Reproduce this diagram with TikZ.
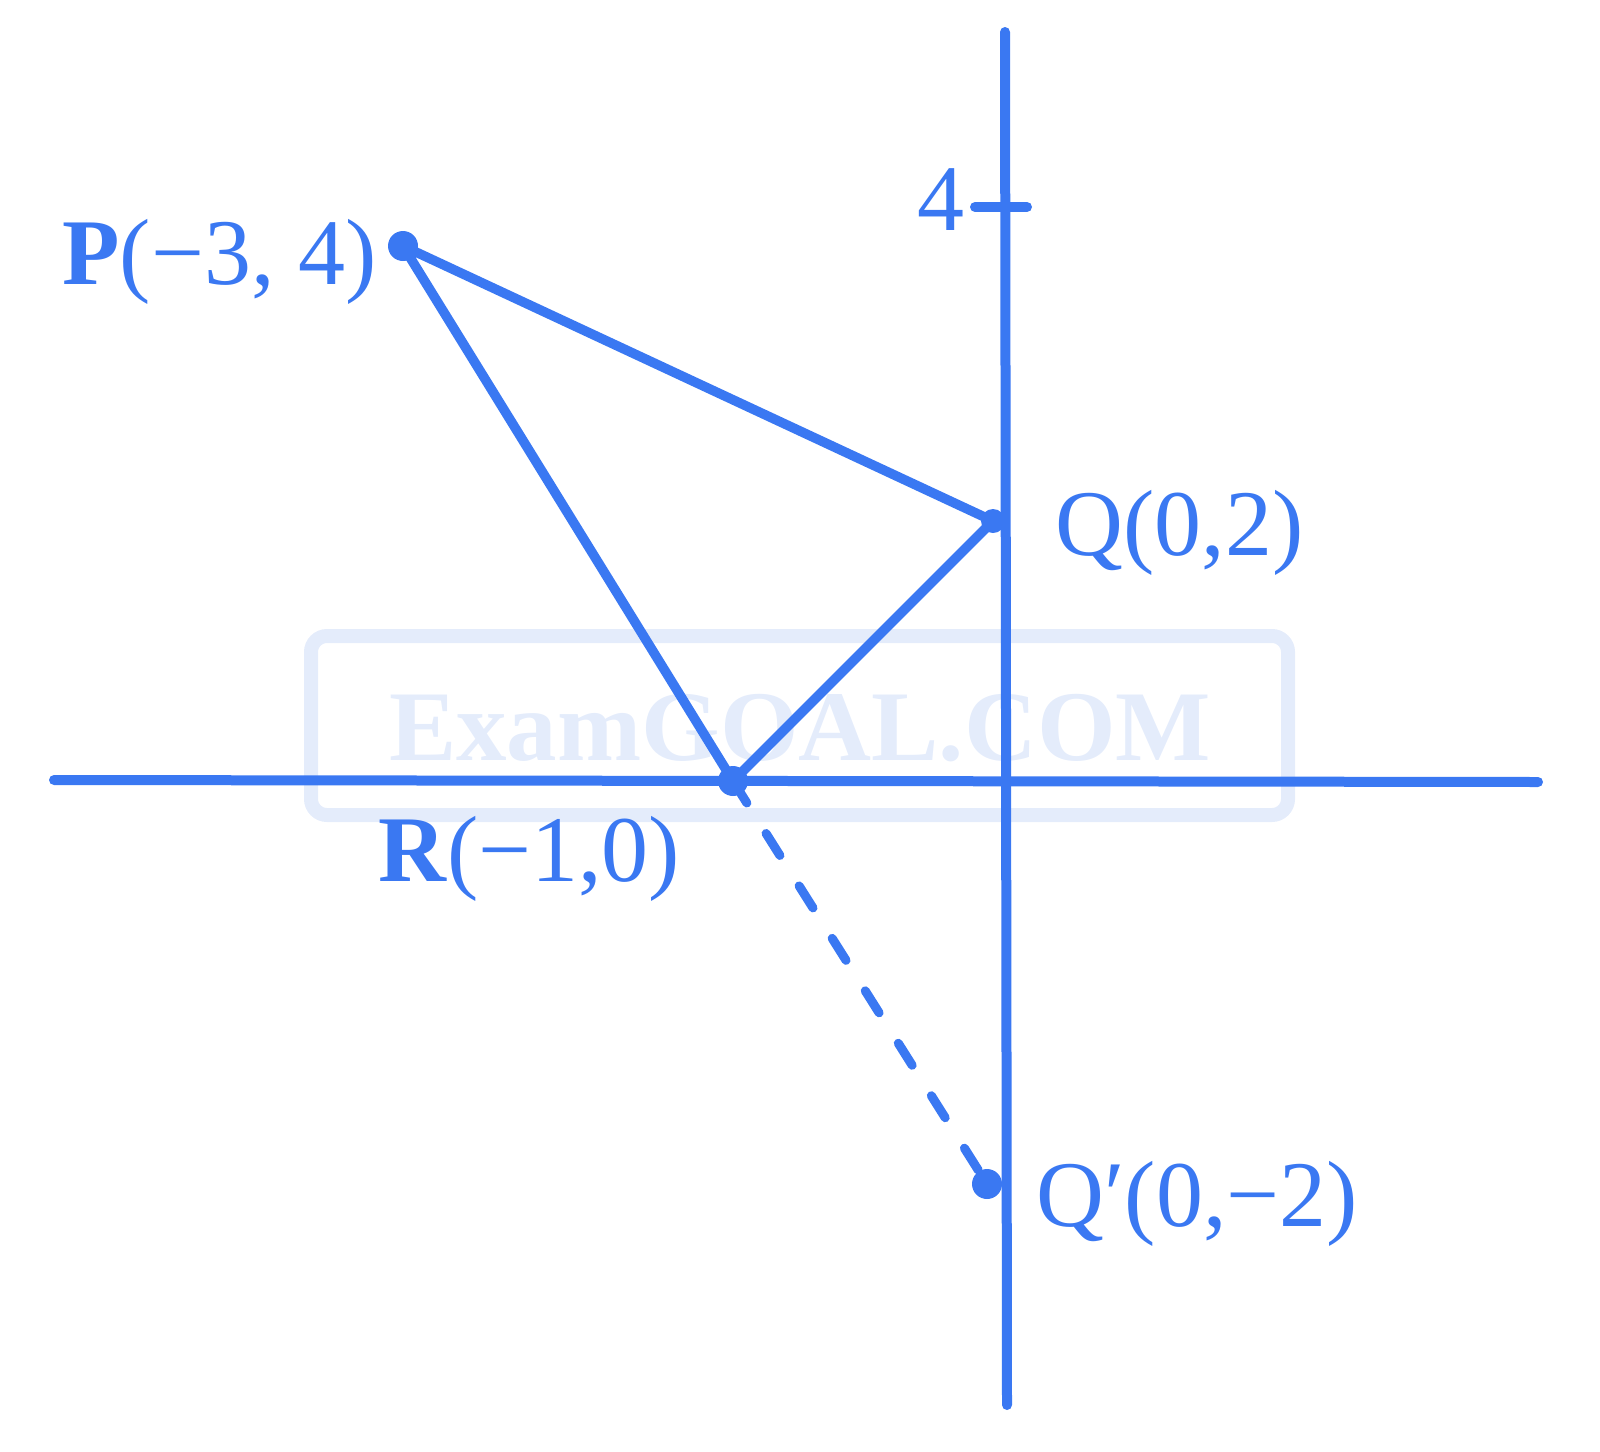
\documentclass[tikz,border=0pt]{standalone}
\usepackage{fontspec}
\setmainfont{Liberation Serif}
\definecolor{mainblue}{HTML}{3A78F2}
\definecolor{wmblue}{HTML}{E4ECFB}
\begin{document}
\begin{tikzpicture}[x=0.5pt,y=-0.5pt,
  axis/.style={draw=mainblue,line width=5pt,line cap=round},
  side/.style={draw=mainblue,line width=4.8pt,line cap=round,line join=round},
  dashline/.style={draw=mainblue,line width=4.5pt,line cap=round,dash pattern=on 13pt off 18pt},
  lab/.style={text=mainblue,inner sep=0pt,font=\fontsize{47}{51}\selectfont},
  dot/.style={fill=mainblue}]
\useasboundingbox (0,0) rectangle (1600,1451);
% watermark
\draw[wmblue,line width=7pt,rounded corners=8pt] (311,636) rectangle (1288,815);
\node[text=wmblue,font=\fontsize{50}{54}\selectfont\bfseries,xscale=1.01,inner sep=0pt] (wm) at (800,728) {ExamGOAL.COM};
% points
\coordinate (P) at (403,246);
\coordinate (Q) at (993,521);
\coordinate (R) at (733,781);
\coordinate (Qp) at (987,1184);
% axes
\coordinate (xl) at (54,780);
\coordinate (xr) at (1538,782);
\coordinate (yt) at (1005,32);
\coordinate (yb) at (1007,1405);
\draw[axis] (xl) -- (xr);
\draw[axis] (yt) -- (yb);
% tick at 4
\coordinate (t1) at (975,207);
\coordinate (t2) at (1027,207);
\draw[axis] (t1) -- (t2);
\node[lab] (four) at (941,200) {4};
% triangle
\draw[side] (P) -- (Q) -- (R) -- cycle;
\draw[dashline] (R) -- (Qp);
\fill[dot] (P) circle (7.5pt);
\fill[dot] (Q) circle (6pt);
\fill[dot] (R) circle (7.5pt);
\fill[dot] (Qp) circle (7.5pt);
% labels
\node[lab,anchor=west] (lP) at (62,262) {\textbf{P}(−3, 4)};
\node[lab,anchor=west] (lQ) at (1055,533) {Q(0,2)};
\node[lab,anchor=west] (lR) at (378,859) {\textbf{R}(−1,0)};
\node[lab,anchor=west] (lQp) at (1036,1204) {Q′(0,−2)};
\end{tikzpicture}
\end{document}
